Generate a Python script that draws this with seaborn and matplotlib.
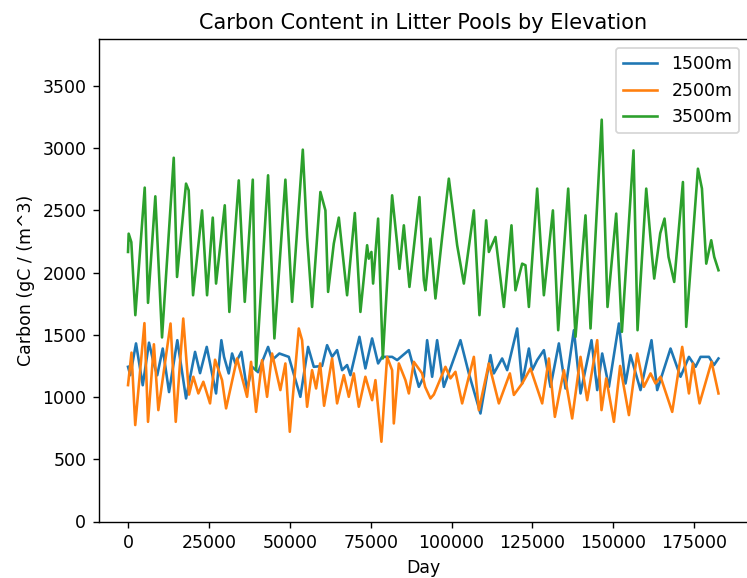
import matplotlib
matplotlib.use("Agg")
import matplotlib.pyplot as plt
import seaborn as sns
import pandas as pd

# ---- data ----
labels = ["1500m", "2500m", "3500m"]
colors = ["#1f77b4", "#ff7f0e", "#2ca02c"]

day_1500 = [0, 700, 2470, 4550, 6490, 7950, 9030, 10730, 12680, 15240, 17930, 20720, 22260,
            24330, 27210, 28850, 29680, 31130, 32160, 33180, 35030, 36790, 38340, 40200, 43290,
            44520, 46780, 49690, 53270, 55660, 57420, 59980, 61530, 63080, 64620, 66170, 67710,
            68740, 71520, 73370, 75440, 77300, 78540, 81630, 83180, 86800, 89890, 91430, 92450,
            94000, 95540, 97610, 102750, 105340, 108930, 112020, 113060, 115640, 117190, 120280,
            121820, 123900, 124920, 126460, 128530, 130580, 133170, 135230, 137810, 139860,
            143250, 145020, 146560, 148630, 151720, 153270, 153770, 155310, 158400, 161800,
            163560, 167680, 170770, 173370, 175410, 176960, 179550, 181100, 182500]
carbon_1500 = [1243, 1176, 1431, 1095, 1437, 1270, 1175, 1390, 1040, 1457, 989, 1363, 1192,
               1403, 1029, 1457, 1323, 1190, 1350, 1270, 1363, 1056, 1243, 1200, 1403,
               1297, 1350, 1323, 1002, 1403, 1243, 1250, 1417, 1323, 1377, 1216, 1257,
               1176, 1484, 1230, 1471, 1270, 1323, 1323, 1297, 1377, 1082, 1163, 1457,
               1163, 1457, 1082, 1457, 1190, 868, 1337, 1190, 1310, 1216, 1551,
               1109, 1390, 1216, 1297, 1377, 1082, 1431, 1069, 1537, 1029,
               1457, 1056, 1350, 1082, 1591, 1216, 1109, 1337, 1056, 1457,
               1056, 1390, 1163, 1323, 1243, 1323, 1323, 1257, 1310]

day_2500 = [0, 1080, 2230, 5070, 6180, 8000, 9370, 13140, 14750, 17070, 18860, 20190, 21740,
            23280, 25350, 26900, 29060, 30310, 33700, 36790, 38030, 39580, 41430, 42980, 44520,
            47090, 48640, 50000, 52780, 53800, 55350, 56890, 58130, 59370, 60600, 63080, 64620,
            66700, 68240, 69790, 71330, 73370, 75440, 76470, 78320, 80080, 81630, 82150, 83700,
            85740, 86800, 88340, 90900, 91830, 93470, 94520, 98110, 99660, 101200, 103270,
            106890, 108440, 111530, 114620, 118020, 119260, 121820, 124390, 128010, 130080,
            131930, 134720, 137280, 139860, 141920, 145020, 146350, 147800, 150180, 152100,
            154820, 157380, 159440, 161510, 163040, 164590, 168200, 171290, 173370, 174600,
            176650, 180360, 182500]
carbon_2500 = [1096, 1357, 775, 1594, 801, 1424, 895, 1591, 801, 1631, 1020, 1163, 1029,
               1123, 949, 1300, 1136, 909, 1310, 1002, 1283, 881, 1297, 1002, 1350,
               1056, 1270, 721, 1551, 1457, 922, 1216, 1069, 1270, 930, 1310, 949,
               1176, 1002, 1190, 922, 1163, 975, 1136, 641, 1323, 1216, 788, 1270,
               1136, 1029, 1283, 1190, 1082, 989, 1020, 1243, 1150, 1203, 949,
               1323, 895, 1270, 949, 1190, 1017, 1109, 1230, 949, 1310,
               841, 1216, 828, 1323, 975, 1457, 895, 1150, 801, 1250,
               855, 1350, 1082, 1190, 1109, 1163, 881, 1403, 1029, 1270,
               949, 1283, 1029]

day_3500 = [0, 200, 1020, 2260, 5160, 6180, 8440, 10510, 14130, 15150, 17930, 18750, 20100,
            22880, 24430, 26190, 27210, 29900, 31320, 34230, 36080, 38560, 39580, 43290, 45240,
            48640, 50710, 54020, 55350, 56890, 59460, 61010, 61840, 63600, 65150, 67710, 70100,
            71830, 73900, 74420, 75230, 75750, 77300, 78750, 81630, 83180, 83890, 85250, 86980,
            90070, 91430, 91930, 93470, 95020, 97090, 99160, 100400, 101730, 103800, 106890,
            108620, 110690, 111530, 113570, 116170, 118520, 119750, 121820, 122850, 123900,
            126460, 128530, 131320, 132960, 136050, 138310, 141400, 142950, 146410, 148200,
            150890, 152650, 156240, 157480, 160170, 161920, 162640, 164500, 165830, 167060,
            168820, 171510, 172530, 176150, 177390, 178720, 180260, 181190, 182500]
carbon_3500 = [2166, 2313, 2245, 1658, 2683, 1757, 2613, 1479, 2923, 1965, 2715, 2661, 1818,
               2500, 1818, 2442, 1912, 2541, 1684, 2741, 1765, 2747, 1216, 2782, 1471,
               2747, 1765, 2988, 2286, 1724, 2648, 2500, 1845, 2233, 2442, 1818, 2479,
               1684, 2220, 2112, 2166, 1912, 2434, 1310, 2621, 2233, 2030, 2380, 1885,
               2607, 1939, 1858, 2273, 1792, 2286, 2755, 2500, 2220, 1912, 2500,
               1658, 2420, 2166, 2286, 1724, 2380, 1858, 2072, 2059, 1724,
               2675, 1818, 2500, 1537, 2675, 1484, 2460, 1551, 3229, 1724,
               2474, 1524, 2982, 1537, 2675, 2146, 1952, 2316, 2434, 2126,
               1925, 2728, 1564, 2835, 2675, 2072, 2260, 2126, 2019]

frames = []
for lab, d, c in zip(labels, [day_1500, day_2500, day_3500],
                     [carbon_1500, carbon_2500, carbon_3500]):
    frames.append(pd.DataFrame({"Day": d, "Carbon": c, "Elevation": lab}))
df = pd.concat(frames, ignore_index=True)

fig = plt.figure(figsize=(747 / 125, 578 / 125), dpi=125)
ax = fig.add_axes([98.5 / 747, (578 - 521.5) / 578, (748 - 98.5) / 747, (521.5 - 39.3) / 578])

sns.lineplot(data=df, x="Day", y="Carbon", hue="Elevation", hue_order=labels,
             palette=colors, estimator=None, sort=False, linewidth=1.5, ax=ax)

ax.set_ylim(0, 1.2 * df["Carbon"].max())
ax.set_title("Carbon Content in Litter Pools by Elevation")
ax.set_xlabel("Day")
ax.set_ylabel("Carbon (gC / (m^3)")
ax.legend(loc="upper right")

fig.savefig("out.png", dpi=125)
